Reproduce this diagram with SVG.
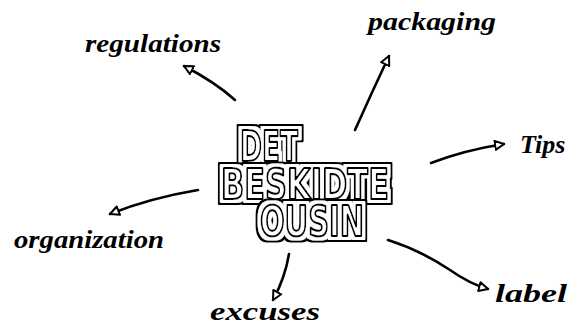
<svg xmlns="http://www.w3.org/2000/svg" width="577" height="330" viewBox="0 0 577 330">
<defs>
<style>
.lbl{font-family:"Liberation Serif",serif;font-style:italic;font-weight:bold;font-size:26px;fill:#000}
.c{fill:none;stroke:#000;stroke-width:2.6;stroke-linecap:round;stroke-linejoin:round}
.t{font-family:"DejaVu Sans Condensed","DejaVu Sans",sans-serif;font-weight:bold;font-size:43px;text-anchor:middle;fill:#fff;stroke:#000;stroke-width:2.2;stroke-linejoin:round;filter:url(#halo)}
</style>
<filter id="halo" x="-15%" y="-30%" width="130%" height="160%">
<feMorphology in="SourceAlpha" operator="dilate" radius="4.5" result="d1"/>
<feMorphology in="SourceAlpha" operator="dilate" radius="2.8" result="d2"/>
<feFlood flood-color="#fff" result="w"/>
<feComposite in="w" in2="d2" operator="in" result="wd"/>
<feMerge><feMergeNode in="d1"/><feMergeNode in="wd"/><feMergeNode in="SourceGraphic"/></feMerge>
</filter>
<marker id="ah" viewBox="0 0 12 12" refX="10" refY="6" markerWidth="12" markerHeight="12" markerUnits="userSpaceOnUse" orient="auto">
<path d="M1,1.5 L10,6 L1,10.5 Z" fill="#fff" stroke="#000" stroke-width="2" stroke-linejoin="round"/>
</marker>
</defs>
<rect width="577" height="330" fill="#fff"/>
<g id="title">
<text class="t" x="269" y="161" textLength="58" lengthAdjust="spacingAndGlyphs">DET</text>
<text class="t" x="305" y="199" textLength="168" lengthAdjust="spacingAndGlyphs">BESKIDTE</text>
<text class="t" x="312" y="236" textLength="104" lengthAdjust="spacingAndGlyphs">OUSIN</text>
</g>
<g id="connectors">
<path class="c" d="M235,100 Q215,82 184,66" marker-end="url(#ah)"/>
<path class="c" d="M355,130 Q372,92 389,56" marker-end="url(#ah)"/>
<path class="c" d="M431,163 Q465,150 504,144" marker-end="url(#ah)"/>
<path class="c" d="M198,190 Q150,198 110,214" marker-end="url(#ah)"/>
<path class="c" d="M289,254 Q285,278 273,300" marker-end="url(#ah)"/>
<path class="c" d="M388,240 Q420,250 450,270 Q470,284 488,289" marker-end="url(#ah)"/>
</g>
<g id="regulations"><text class="lbl" x="85" y="52" textLength="136" lengthAdjust="spacingAndGlyphs">regulations</text></g>
<g id="packaging"><text class="lbl" x="368" y="30" textLength="128" lengthAdjust="spacingAndGlyphs">packaging</text></g>
<g id="tips"><text class="lbl" x="520" y="153">Tips</text></g>
<g id="organization"><text class="lbl" x="14" y="248" textLength="150" lengthAdjust="spacingAndGlyphs">organization</text></g>
<g id="excuses"><text class="lbl" x="210" y="320" textLength="110" lengthAdjust="spacingAndGlyphs">excuses</text></g>
<g id="label"><text class="lbl" x="495" y="302" textLength="72" lengthAdjust="spacingAndGlyphs">label</text></g>
</svg>
